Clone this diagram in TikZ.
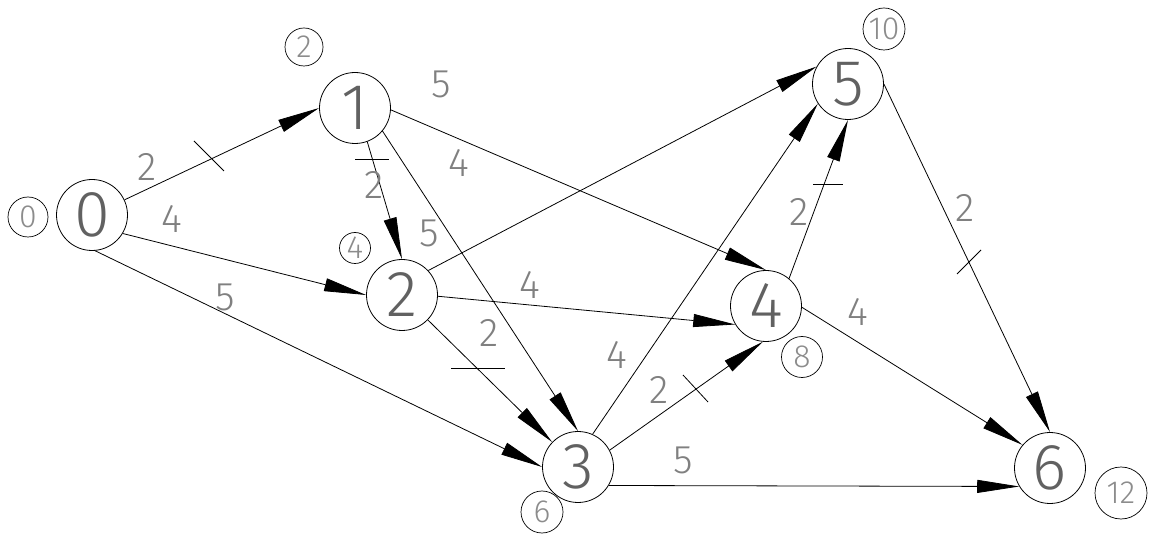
\documentclass[tikz,border=0pt]{standalone}
\usepackage{fontspec}
\newfontfamily\lightsans{Fira Sans Light}
\usetikzlibrary{arrows.meta}
\begin{document}
\begin{tikzpicture}[x=1pt,y=-1pt,
  event/.style={circle,draw,line width=0.8pt,minimum size=71pt,inner sep=0pt,
    font=\lightsans\fontsize{65}{65}\selectfont,text=black!62},
  tag/.style={circle,draw,line width=0.7pt,minimum size=40pt,inner sep=0pt,
    font=\lightsans\fontsize{32}{32}\selectfont,text=black!45},
  job/.style={line width=0.8pt,-{Triangle[length=42pt,width=13pt]}},
  dur/.style={font=\lightsans\fontsize{40}{40}\selectfont,text=black!50,inner sep=0pt},
  crit/.style={line width=0.8pt}]
\useasboundingbox (0,0) rectangle (1157,534);

% events
\node[event] (n0) at (92,215) {0};
\node[event] (n1) at (355,108) {1};
\node[event] (n2) at (402,295) {2};
\node[event] (n3) at (578,467) {3};
\node[event] (n4) at (766,306) {4};
\node[event] (n5) at (848,84) {5};
\node[event] (n6) at (1050,468) {6};

% earliest event times
\node[tag] (t0) at (28,217) {0};
\node[tag,minimum size=38pt] (t1) at (304,47) {2};
\node[tag,minimum size=31pt] (t2) at (355,248) {4};
\node[tag,minimum size=42pt] (t3) at (542,512) {6};
\node[tag,minimum size=41pt] (t4) at (802,357) {8};
\node[tag,minimum size=42pt] (t5) at (884,29) {10};
\node[tag,minimum size=52pt] (t6) at (1121,493) {12};

% jobs
\draw[job] (n0.25) -- (n1.180);
\draw[job] (n0.-31) -- (n2.180);
\draw[job] (n0.-85) -- (n3.180);
\draw[job] (n1.-70) -- (n2.90);
\draw[job] (n1.-40) -- (n3.90);
\draw[job] (n1.-3) -- (n4.90);
\draw[job] (n2.43) -- (n5.151);
\draw[job] (n2.-2) -- (n4.211);
\draw[job] (n2.-44) -- (n3.136);
\draw[job] (n3.66) -- (n5.213);
\draw[job] (n3.28) -- (n4.265);
\draw[job] (n3.-31) -- (n6.211);
\draw[job] (n4.50) -- (n5.270);
\draw[job] (n4.-2) -- (n6.140);
\draw[job] (n5.0) -- (n6.90);

% critical path marks
\draw[crit] (194,141) -- (224,171);
\draw[crit] (355,159) -- (389,159);
\draw[crit] (451,368) -- (505,368);
\draw[crit] (683,375) -- (708,402);
\draw[crit] (813,184) -- (843,184);
\draw[crit] (957,274) -- (981,250);

% durations
\node[dur] (d01) at (147,167) {2};
\node[dur] (d02) at (172,219) {4};
\node[dur] (d03) at (225,297) {5};
\node[dur] (d12) at (374,185) {2};
\node[dur] (d13) at (429,233) {5};
\node[dur] (d14) at (459,163) {4};
\node[dur] (d25) at (441,84) {5};
\node[dur] (d24) at (530,285) {4};
\node[dur] (d23) at (489,333) {2};
\node[dur] (d35) at (617,355) {4};
\node[dur] (d34) at (659,390) {2};
\node[dur] (d36) at (683,460) {5};
\node[dur] (d45) at (799,212) {2};
\node[dur] (d46) at (858,312) {4};
\node[dur] (d56) at (965,208) {2};
\end{tikzpicture}
\end{document}
